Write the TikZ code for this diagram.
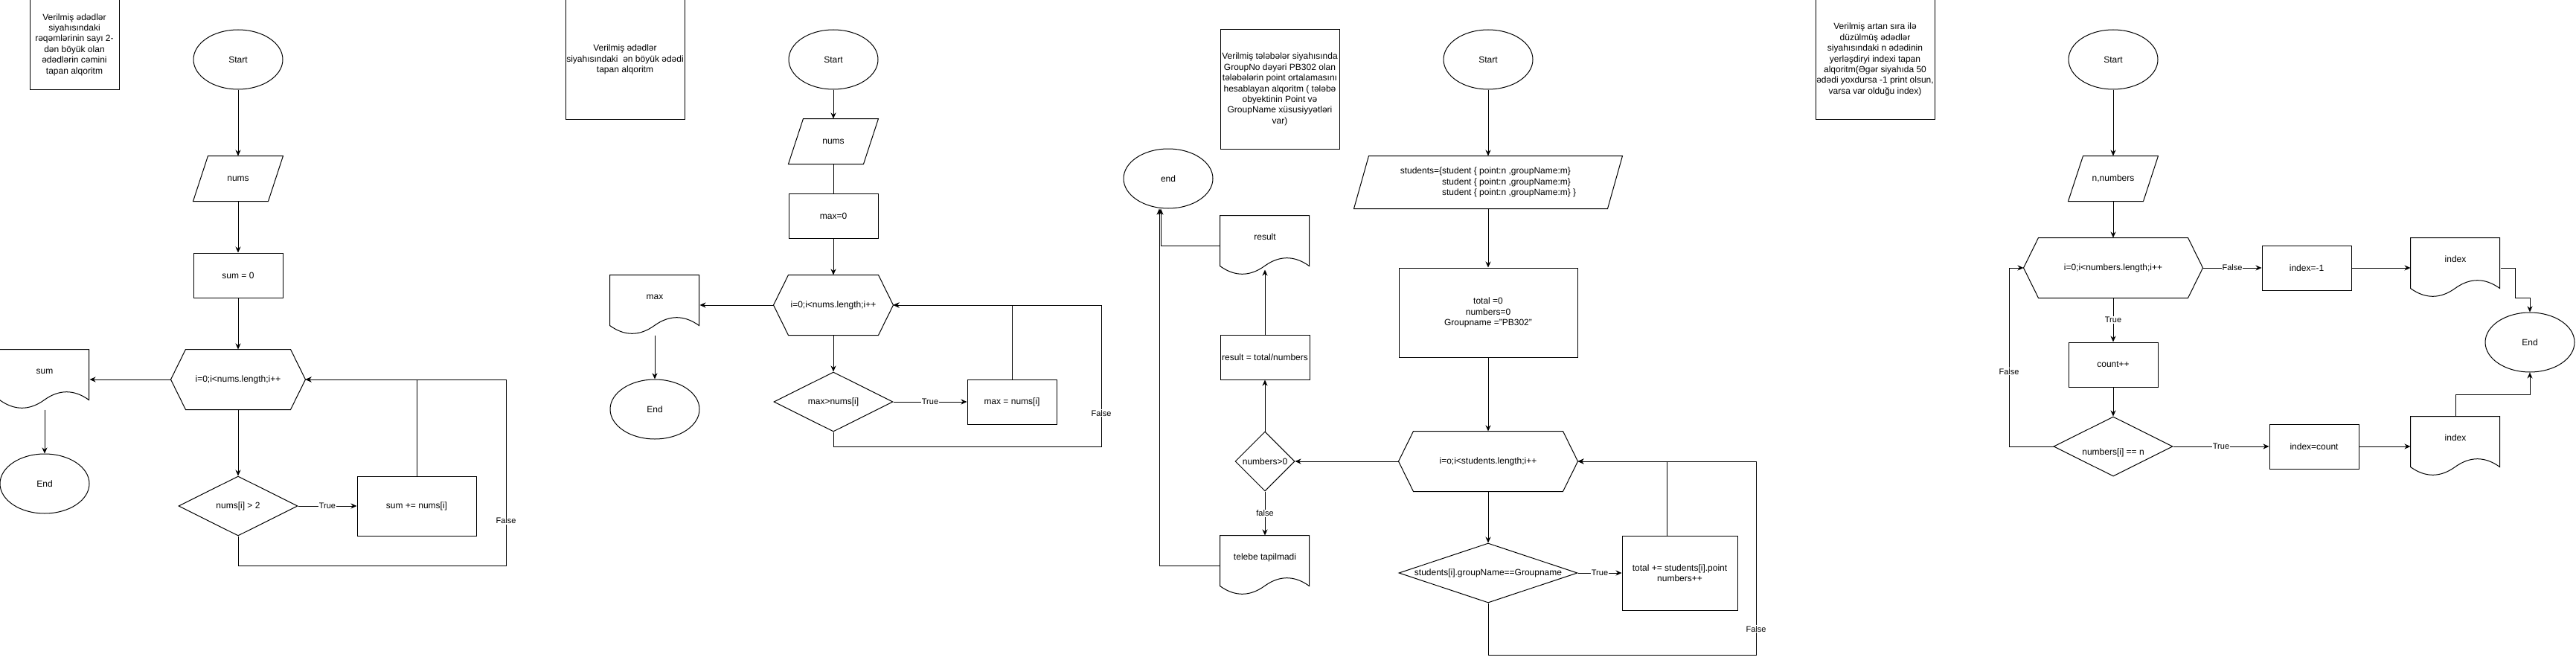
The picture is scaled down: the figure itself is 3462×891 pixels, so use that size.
\documentclass[tikz,border=0pt]{standalone}
\usepackage{fontspec}
\setmainfont{Liberation Sans}
\usepackage{tikz}
\usetikzlibrary{
        arrows.meta,
        shapes.geometric
    }
\tikzset{>={Stealth[length=8pt,width=7pt,inset=2.5pt]}}
\tikzset{
    every node/.style={font=\fontsize{12}{14.4}\selectfont,inner sep=0pt,align=center},
    term/.style={ellipse,draw,minimum width=120pt,minimum height=80pt},
    proc/.style={rectangle,draw,minimum width=120pt,minimum height=60pt},
    note/.style={rectangle,draw,minimum width=160pt,minimum height=160pt},
    io/.style={rectangle,minimum width=120pt,minimum height=60pt},
    hexa/.style={rectangle,minimum height=80pt},
    doc/.style={rectangle,minimum width=120pt,minimum height=80pt,text height=9pt,text depth=25pt},
    test/.style={diamond,draw,minimum width=160pt,minimum height=80pt,aspect=2},
    lbl/.style={fill=white,inner sep=1pt,font=\fontsize{11}{13.2}\selectfont}
}
\newcommand{\ioframe}[1]{\draw ([xshift=20pt]#1.north west) -- (#1.north east) -- ([xshift=-20pt]#1.south east) -- (#1.south west) -- cycle;}
\newcommand{\hexframe}[1]{\draw ([xshift=20pt]#1.north west) -- ([xshift=-20pt]#1.north east) -- (#1.east) -- ([xshift=-20pt]#1.south east) -- ([xshift=20pt]#1.south west) -- (#1.west) -- cycle;}
\newcommand{\docframe}[1]{\draw[shift={(#1.north west)}] (0,0) -- (120,0) -- (120,68) .. controls (100,53.6) and (80,53.6) .. (60,68) .. controls (40,82.4) and (20,82.4) .. (0,68) -- cycle;}

\begin{document}
\begin{tikzpicture}[x=1pt,y=-1pt,line width=1pt]
\useasboundingbox (0,0) rectangle (3462,891);

% first chart
\node[note,minimum width=120pt,minimum height=120pt] (t1) at (100,60) {Verilmiş ədədlər\\siyahısındaki\\rəqəmlərinin sayı 2-\\dən böyük olan\\ədədlərin cəmini\\tapan alqoritm};
\node[term] (start1) at (320,80) {Start};
\node[io] (in1) at (320,240) {nums};
\node[proc] (init1) at (320,370) {sum = 0};
\node[hexa,minimum width=180pt] (loop1) at (320,510) {i=0;i<nums.length;i++};
\node[doc] (out1) at (60,510) {sum};
\node[term] (end1) at (60,650) {End};
\node[test] (if1) at (320,680) {nums[i] > 2};
\node[proc,minimum width=160pt,minimum height=80pt] (body1) at (560,680) {sum += nums[i]};
\coordinate (c1) at (680,760);
\ioframe{in1}
\hexframe{loop1}
\docframe{out1}
\path[->]
    (start1) edge (in1)
    (in1) edge (init1)
    (init1) edge (loop1)
    (loop1) edge (out1)
    (out1) edge (end1)
    (loop1) edge (if1)
    (if1) edge node[lbl] {True} (body1)
;
\draw[->] (body1.north) |- (loop1.east);
\draw[->] (if1.south) |- (c1) |- node[lbl,pos=0.12] {False} (loop1.east);

% second chart
\node[note] (t2) at (840,80) {Verilmiş ədədlər\\siyahısındaki~ ən böyük ədədi\\tapan alqoritm};
\node[term] (start2) at (1120,80) {Start};
\node[io] (in2) at (1120,190) {nums};
\node[proc] (init2) at (1120,290) {max=0};
\node[hexa,minimum width=160pt] (loop2) at (1120,410) {i=0;i<nums.length;i++};
\node[doc] (out2) at (880,410) {max};
\node[term] (end2) at (880,550) {End};
\node[test] (if2) at (1120,540) {max>nums[i]};
\node[proc] (body2) at (1360,540) {max = nums[i]};
\coordinate (c2) at (1480,600);
\ioframe{in2}
\hexframe{loop2}
\docframe{out2}
\path[->]
    (start2) edge (in2)
    (in2) edge[-] (init2)
    (init2) edge (loop2)
    (loop2) edge (out2)
    (out2) edge (end2)
    (loop2) edge (if2)
    (if2) edge node[lbl] {True} (body2)
;
\draw[->] (body2.north) |- (loop2.east);
\draw[->] (if2.south) |- (c2) |- node[lbl,pos=0.118] {False} (loop2.east);

% third chart
\node[note] (t3) at (1720,120) {Verilmiş tələbələr siyahısında\\GroupNo dəyəri PB302 olan\\tələbələrin point ortalamasını\\hesablayan alqoritm ( tələbə\\obyektinin Point və\\GroupName xüsusiyyətləri\\var)};
\node[term] (start3) at (2000,80) {Start};
\node[io,minimum width=360pt,minimum height=70pt,align=left] (in3) at (2000,245) {students=\{student \{ point:n ,groupName:m\}\\\hphantom{students=\{}student \{ point:n ,groupName:m\}\\\hphantom{students=\{}student \{ point:n ,groupName:m\} \}};
\node[proc,minimum width=240pt,minimum height=120pt] (init3) at (2000,420) {total =0\\numbers=0\\Groupname ="PB302"};
\node[hexa,minimum width=240pt] (loop3) at (2000,620) {i=o;i<students.length;i++};
\node[test,minimum width=240pt,aspect=3] (if3) at (2000,770) {students[i].groupName==Groupname};
\node[proc,minimum width=155pt,minimum height=100pt] (body3) at (2257.5,770) {total += students[i].point\\numbers++};
\coordinate (c3) at (2360,880);
\node[test,minimum width=80pt,aspect=1] (chk3) at (1700,620) {numbers>0};
\node[proc] (calc3) at (1700,480) {result = total/numbers};
\node[doc] (out3) at (1700,330) {result};
\node[doc] (nf3) at (1700,760) {telebe tapilmadi};
\node[term] (end3) at (1570,240) {end};
\ioframe{in3}
\hexframe{loop3}
\docframe{out3}
\docframe{nf3}
\path[->]
    (start3) edge (in3)
    (in3) edge (init3)
    (init3) edge (loop3)
    (loop3) edge (if3)
    (if3) edge node[lbl] {True} (body3)
    (loop3) edge (chk3)
    (chk3) edge (calc3)
    (chk3) edge node[lbl] {false} (nf3)
    (calc3) edge ([yshift=8pt]out3.south)
;
\draw[->] ([xshift=-17pt]body3.north) |- (loop3.east);
\draw[->] (if3.south) |- (c3) |- node[lbl,pos=0.067] {False} (loop3.east);
\draw[->] (nf3.west) -| ([xshift=-12pt]end3.south);
\draw[->] (out3.west) -| ([xshift=-10pt]end3.south);

% fourth chart
\node[note] (t4) at (2520,80) {Verilmiş artan sıra ilə\\düzülmüş ədədlər\\siyahısındaki n ədədinin\\yerləşdiryi indexi tapan\\alqoritm(Əgər siyahıda 50\\ədədi yoxdursa -1 print olsun,\\varsa var olduğu index)};
\node[term] (start4) at (2840,80) {Start};
\node[io] (in4) at (2840,240) {n,numbers};
\node[hexa,minimum width=240pt] (loop4) at (2840,360) {i=0;i<numbers.length;i++};
\node[proc] (neg4) at (3100,360) {index=-1};
\node[doc] (out4a) at (3300,360) {index};
\node[term] (end4) at (3400,460) {End};
\node[proc] (cnt4) at (2840,490) {count++};
\node[test,text height=26pt,text depth=2.5pt] (if4) at (2840,600) {numbers[i] == n};
\node[proc] (set4) at (3110,600) {index=count};
\node[doc] (out4b) at (3300,600) {index};
\coordinate (k4a) at (3380,400);
\coordinate (k4b) at (3300,530);
\coordinate (k4c) at (2700,600);
\ioframe{in4}
\hexframe{loop4}
\docframe{out4a}
\docframe{out4b}
\path[->]
    (start4) edge (in4)
    (in4) edge (loop4)
    (loop4) edge node[lbl] {False} (neg4)
    (neg4) edge (out4a)
    (loop4) edge node[lbl] {True} (cnt4)
    (cnt4) edge (if4)
    (if4) edge node[lbl] {True} (set4)
    (set4) edge (out4b)
;
\draw[->] (out4a.east) -| (k4a) -| (end4.north);
\draw[->] (out4b.north) -- (k4b) -| (end4.south);
\draw[->] (if4.west) -- (k4c) |- node[lbl,pos=0.21] {False} (loop4.west);
\end{tikzpicture}
\end{document}
